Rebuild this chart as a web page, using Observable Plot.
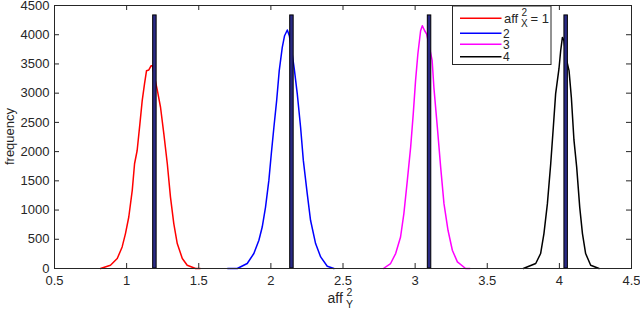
<!DOCTYPE html>
<html><head><meta charset="utf-8">
<script src="https://cdn.jsdelivr.net/npm/d3@7"></script>
<script src="https://cdn.jsdelivr.net/npm/@observablehq/plot@0.6"></script>
<style>
body{margin:0;background:#fff;}
svg{font-family:"Liberation Sans",Arial,Helvetica,sans-serif;}
</style>
</head><body><div id="chart"></div>
<script>
// ---- data ----
const redX = [0.819,0.888,0.935,0.969,0.992,1.015,1.039,1.055,1.073,1.092,1.108,1.124,1.138,1.154,1.170,1.178,1.196,1.212,1.235,1.258,1.282,1.304,1.327,1.351,1.386,1.420,1.478,1.510];
const redY = [0,56,170,369,597,881,1337,1792,2019,2475,2873,3158,3385,3397,3470,3470,3250,3060,2759,2304,1792,1222,768,427,171,56,0,0];
const blueX = [1.700,1.767,1.836,1.882,1.917,1.940,1.963,1.986,2.003,2.021,2.040,2.058,2.079,2.095,2.114,2.128,2.146,2.162,2.183,2.206,2.225,2.252,2.275,2.310,2.345,2.391,2.437];
const blueY = [0,0,85,256,483,710,1051,1507,1963,2417,2873,3385,3783,3983,4080,3983,3700,3420,2987,2417,1849,1280,825,427,198,39,0];
const magX = [2.780,2.830,2.865,2.899,2.922,2.946,2.969,2.987,3.003,3.019,3.038,3.050,3.066,3.080,3.098,3.118,3.130,3.154,3.177,3.200,3.228,3.258,3.293,3.350,3.380];
const magY = [0,85,256,539,939,1507,2076,2646,3214,3670,4068,4153,4068,4011,3800,3560,3100,2417,1735,1110,654,312,113,0,0];
const blkX = [3.750,3.836,3.870,3.893,3.917,3.940,3.958,3.974,3.997,4.009,4.021,4.032,4.047,4.067,4.083,4.101,4.120,4.141,4.160,4.182,4.217,4.275];
const blkY = [0,85,256,597,1110,1792,2417,2987,3414,3726,3954,3897,3600,3385,2929,2200,1735,1051,597,256,56,0];

const seriesNames = ["1","2","3","4"];
const seriesColors = ["#ff0000","#0000ff","#ff00ff","#000000"];
const seriesX = [redX, blueX, magX, blkX];
const seriesY = [redY, blueY, magY, blkY];

const barX = [1.196, 2.146, 3.100, 4.047];
const barH = [4330, 4330, 4330, 4330];

const xTicks = [0.5,1,1.5,2,2.5,3,3.5,4,4.5];
const yTicks = [0,500,1000,1500,2000,2500,3000,3500,4000,4500];

// ---- build tables ----
const curves = seriesNames.flatMap((s,i) => seriesX[i].map((x,j) => ({s, x, y: seriesY[i][j]})));
const bars = barX.map((x,i) => ({x, h: barH[i]}));

const W = 640, H = 309, mL = 54, mR = 9, mT = 5, mB = 41;
const innerW = W - mL - mR, innerH = H - mT - mB;
const tk = 5, hw = 0.012;
const ink = "#262626";
const FF = '"Liberation Sans",Arial,sans-serif';

const chart = Plot.plot({
  width: W, height: H,
  marginLeft: mL, marginRight: mR, marginTop: mT, marginBottom: mB,
  x: {domain: [0.5, 4.5]},
  y: {domain: [0, 4500]},
  color: {domain: seriesNames, range: seriesColors},
  style: {fontSize: "13px", color: ink, background: "#fff", fontFamily: FF},
  marks: [
    Plot.line(curves, {x: "x", y: "y", z: "s", stroke: "s", strokeWidth: 1.5}),
    Plot.rectY(bars, {x1: d => d.x - hw, x2: d => d.x + hw, y1: 0, y2: "h", fill: "#2a2a85", stroke: "#000", strokeWidth: 1}),
    Plot.tickX(xTicks, {x: d => d, stroke: ink, insetTop: innerH - tk}),
    Plot.tickX(xTicks, {x: d => d, stroke: ink, insetBottom: innerH - tk}),
    Plot.tickY(yTicks, {y: d => d, stroke: ink, insetRight: innerW - tk}),
    Plot.tickY(yTicks, {y: d => d, stroke: ink, insetLeft: innerW - tk}),
    Plot.frame({stroke: ink}),
    Plot.axisX(xTicks, {tickSize: 0, tickPadding: 7, label: null, tickFormat: d => String(d), fill: ink, fontSize: 13}),
    Plot.axisY(yTicks, {tickSize: 0, tickPadding: 5, label: null, tickFormat: d => String(d), fill: ink, fontSize: 13})
  ]
});
document.getElementById("chart").appendChild(chart);

const svg = d3.select(chart);
function txt(g, x, y, size, s, extra) {
  const t = g.append("text").attr("x", x).attr("y", y).attr("fill", ink)
    .attr("text-anchor", "start")
    .style("font-size", size + "px").style("font-family", FF).text(s);
  if (extra) extra(t);
  return t;
}
const xMid = (mL + W - mR) / 2;
// y-axis title
svg.append("text").attr("transform", `translate(${mL - 40},${mT + innerH/2}) rotate(-90)`)
  .attr("text-anchor", "middle").style("font-size", "13px").style("font-family", FF).attr("fill", ink).text("frequency");
// x-axis title: aff^2_Y
const xl = svg.append("g");
txt(xl, xMid - 15, 302.5, 14, "aff");
txt(xl, xMid + 4, 295.5, 10.5, "2");
txt(xl, xMid + 3.5, 308, 10.5, "Y");

// legend
const lg = svg.append("g");
lg.append("rect").attr("x", 452.5).attr("y", 6).attr("width", 98.5).attr("height", 58.5)
  .attr("fill", "#fff").attr("stroke", ink).attr("stroke-width", 1);
const rowY = [18.3, 33.3, 44.3, 56.7];
seriesNames.forEach((s, i) => {
  lg.append("line").attr("x1", 460).attr("x2", 501.5).attr("y1", rowY[i]).attr("y2", rowY[i])
    .attr("stroke", seriesColors[i]).attr("stroke-width", 1.5);
  const c = t => t.attr("dy", "0.35em");
  if (i === 0) {
    txt(lg, 504, rowY[i], 13, "aff", c);
    txt(lg, 521.5, rowY[i] - 5.5, 10, "2", c);
    txt(lg, 521, rowY[i] + 5, 10, "X", c);
    txt(lg, 530.5, rowY[i], 13, "= " + s, c);
  } else {
    txt(lg, 503, rowY[i], 12, s, c);
  }
});
</script>
</body></html>
